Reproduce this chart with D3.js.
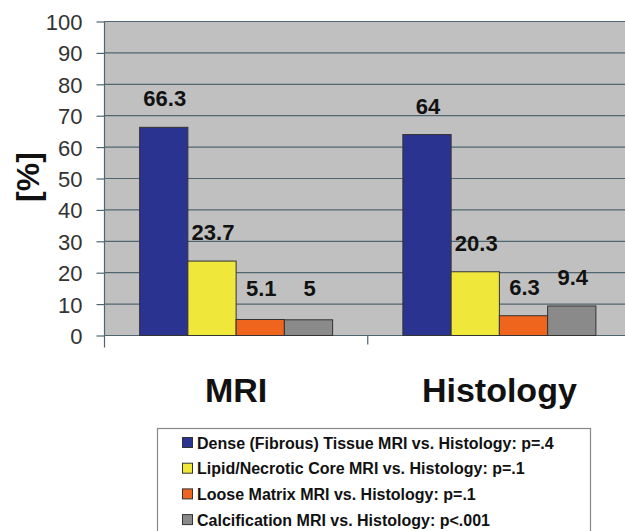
<!DOCTYPE html>
<html><head><meta charset="utf-8">
<script src="https://cdn.jsdelivr.net/npm/d3@7"></script>
<style>body{margin:0;background:#fff}svg{display:block}</style>
</head><body><svg id="c" width="625" height="531"></svg>
<script>
const categories = ["MRI", "Histology"];
const seriesNames = [
  "Dense (Fibrous) Tissue MRI vs. Histology: p=.4",
  "Lipid/Necrotic Core MRI vs. Histology: p=.1",
  "Loose Matrix MRI vs. Histology: p=.1",
  "Calcification MRI vs. Histology: p<.001"
];
const mriValues = [66.3, 23.7, 5.1, 5];
const histologyValues = [64, 20.3, 6.3, 9.4];
const valueLabels = [["66.3","23.7","5.1","5"],["64","20.3","6.3","9.4"]];
const yTicks = [0,10,20,30,40,50,60,70,80,90,100];
const colors = ["#2b3391","#efe83a","#f0651e","#8a8a8a"];

(function(){
const svg = d3.select("#c");
const pLeft = 104.5, pTop = 21.5, pBottom = 335.5, pRight = 631;
const x0 = d3.scaleBand().domain(categories).range([pLeft, pRight]).paddingInner(0).paddingOuter(0);
const innerW = 193;
const x1 = d3.scaleBand().domain(d3.range(4)).range([0, innerW]);
const y = d3.scaleLinear().domain([0,100]).range([pBottom, pTop]);
const font = "Liberation Sans, Arial, sans-serif";

svg.append("rect").attr("x", pLeft).attr("y", pTop).attr("width", pRight-pLeft).attr("height", pBottom-pTop).attr("fill","#c0c0c0");

svg.append("g").selectAll("line").data(yTicks.filter(d=>d>0)).join("line")
  .attr("x1", pLeft).attr("x2", pRight).attr("y1", d=>y(d)).attr("y2", d=>y(d))
  .attr("stroke","#4f6670").attr("stroke-width",1.2);

const yAxis = d3.axisLeft(y).tickValues(yTicks).tickSize(8).tickSizeOuter(0).tickPadding(14);
const gy = svg.append("g").attr("transform",`translate(${pLeft},0)`).call(yAxis);
gy.select(".domain").remove();
gy.selectAll(".tick line").attr("stroke","#4f6670").attr("stroke-width",1.2);
gy.selectAll(".tick text").attr("font-family",font).attr("font-size",22).attr("fill","#333").attr("dy","0.36em");
svg.append("line").attr("x1",pLeft).attr("x2",pLeft).attr("y1",pTop).attr("y2",pBottom+12).attr("stroke","#4f6670").attr("stroke-width",1.2);

svg.append("line").attr("x1",pLeft).attr("x2",pRight).attr("y1",pBottom).attr("y2",pBottom).attr("stroke","#4f6670").attr("stroke-width",1.2);
svg.append("g").selectAll("line").data(categories.slice(1)).join("line")
  .attr("x1",d=>x0(d)).attr("x2",d=>x0(d)).attr("y1",pBottom).attr("y2",pBottom+9)
  .attr("stroke","#4f6670").attr("stroke-width",1.2);

const data = [mriValues, histologyValues];
categories.forEach((cat, ci) => {
  const gx = x0(cat) + (x0.bandwidth()-innerW)/2;
  const g = svg.append("g").attr("transform",`translate(${gx},0)`);
  g.selectAll("rect").data(data[ci]).join("rect")
    .attr("x",(d,i)=>x1(i)).attr("width",x1.bandwidth())
    .attr("y",d=>y(d)).attr("height",d=>pBottom-y(d))
    .attr("fill",(d,i)=>colors[i]).attr("stroke","#333").attr("stroke-width",1);
  g.selectAll("text").data(data[ci]).join("text")
    .attr("x",(d,i)=>x1(i)+x1.bandwidth()/2+1)
    .attr("y",d=>Math.min(y(d)-21, 296))
    .attr("text-anchor","middle")
    .attr("font-family",font).attr("font-weight","bold").attr("font-size",22).attr("fill","#111")
    .text((d,i)=>valueLabels[ci][i]);
  svg.append("text").attr("x", x0(cat)+x0.bandwidth()/2).attr("y", 402)
    .attr("text-anchor","middle").attr("font-family",font)
    .attr("font-weight","bold").attr("font-size",34).attr("fill","#111").text(cat);
});

svg.append("text").attr("transform","translate(39,177) rotate(-90)").attr("text-anchor","middle")
  .attr("font-family",font).attr("font-weight","bold").attr("font-size",32).attr("fill","#111").text("[%]");

svg.append("rect").attr("x",157.5).attr("y",428.5).attr("width",433).attr("height",120).attr("fill","#fff").attr("stroke","#888").attr("stroke-width",1.2);
const lg = svg.append("g").selectAll("g").data(seriesNames).join("g")
  .attr("transform",(d,i)=>`translate(182,${443 + i*25.7})`);
lg.append("rect").attr("x",0.5).attr("y",-5.5).attr("width",10).attr("height",10).attr("fill",(d,i)=>colors[i]).attr("stroke","#333").attr("stroke-width",1);
lg.append("text").attr("x",15).attr("y",0).attr("dy","0.36em")
  .attr("font-family",font).attr("font-weight","bold").attr("font-size",16).attr("fill","#111").text(d=>d);
})();
</script></body></html>
